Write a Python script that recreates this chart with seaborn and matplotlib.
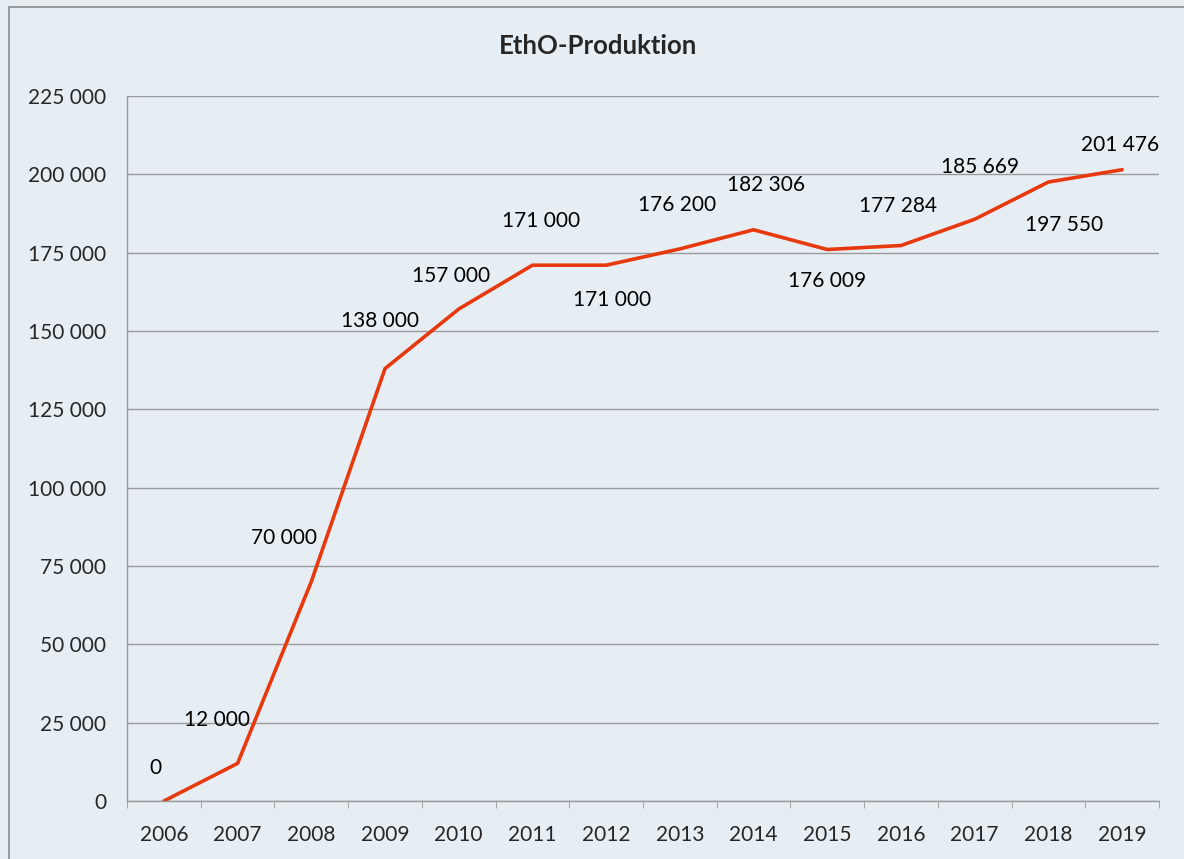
#! /usr/bin/env python3
# coding: utf-8
"""
Line chart of EthO production per year

Output:
  - out.png
"""
import numpy as np
import pandas as pd
import matplotlib.pyplot as plt
import seaborn as sb
from matplotlib.ticker import FixedLocator, FuncFormatter
from matplotlib.lines import Line2D

years = ['2006', '2007', '2008', '2009', '2010', '2011', '2012',
         '2013', '2014', '2015', '2016', '2017', '2018', '2019']
production = [0, 12000, 70000, 138000, 157000, 171000, 171000,
              176200, 182306, 176009, 177284, 185669, 197550, 201476]
# label offsets from the point, in pixels (dx, dy; positive dy = up)
label_offsets = [(-8, 33), (-21, 43), (-27, 44), (-5, 48), (-8, 33), (9, 44), (6, -35),
                 (-3, 44), (12, 45), (0, -31), (-3, 40), (5, 52), (16, -43), (-2, 25)]

BG = '#E6EEF4'
LINE = '#E8380D'
GRID = '#9A9A9A'

if __name__ == '__main__':
    sb.set_style('white')
    plt.rcParams['font.family'] = ['Lato', 'DejaVu Sans']

    data = pd.DataFrame({'year': years, 'value': production})

    fig = plt.figure(figsize=(11.84, 8.59), dpi=100, facecolor=BG)
    ax = fig.add_axes([127 / 1184, 1 - 801 / 859, (1159 - 127) / 1184, (801 - 96) / 859])
    ax.set_facecolor(BG)

    sb.lineplot(data=data, x='year', y='value', color=LINE, linewidth=2.6,
                sort=False, ax=ax)

    ax.set_xlim(-0.5, len(years) - 0.5)
    ax.set_ylim(0, 225000)
    ax.yaxis.set_major_locator(FixedLocator(np.arange(0, 225001, 25000)))
    ax.yaxis.set_major_formatter(FuncFormatter(lambda v, p: f'{int(v):,}'.replace(',', ' ')))
    ax.xaxis.set_minor_locator(FixedLocator(np.arange(-0.5, len(years), 1.0)))

    ax.grid(axis='y', which='major', color=GRID, linewidth=1)
    ax.set_axisbelow(True)
    for side in ['top', 'right']:
        ax.spines[side].set_visible(False)
    for side in ['left', 'bottom']:
        ax.spines[side].set_color(GRID)
        ax.spines[side].set_linewidth(1)

    ax.tick_params(axis='y', which='major', length=5, color=GRID, labelsize=15, pad=10)
    ax.tick_params(axis='x', which='major', length=0, labelsize=15, pad=17)
    ax.tick_params(axis='x', which='minor', length=5, color=GRID, bottom=True)
    ax.set_xlabel('')
    ax.set_ylabel('')

    for i, (v, (dx, dy)) in enumerate(zip(production, label_offsets)):
        ax.annotate(f'{v:,}'.replace(',', ' '), xy=(i, v), xytext=(dx, dy),
                    textcoords='offset pixels', ha='center', va='center',
                    fontsize=15, color='black')

    fig.text(598 / 1184, 1 - 46 / 859, 'EthO-Produktion', ha='center', va='center',
             fontsize=18.5, fontweight='bold')

    # outer chart frame (top and left edge)
    fig.add_artist(Line2D([9 / 1184, 1], [1 - 7 / 859, 1 - 7 / 859], color='#8C8C8C', linewidth=1.2))
    fig.add_artist(Line2D([9 / 1184, 9 / 1184], [0, 1 - 7 / 859], color='#8C8C8C', linewidth=1.2))

    fig.savefig('out.png', dpi=100, facecolor=BG)
